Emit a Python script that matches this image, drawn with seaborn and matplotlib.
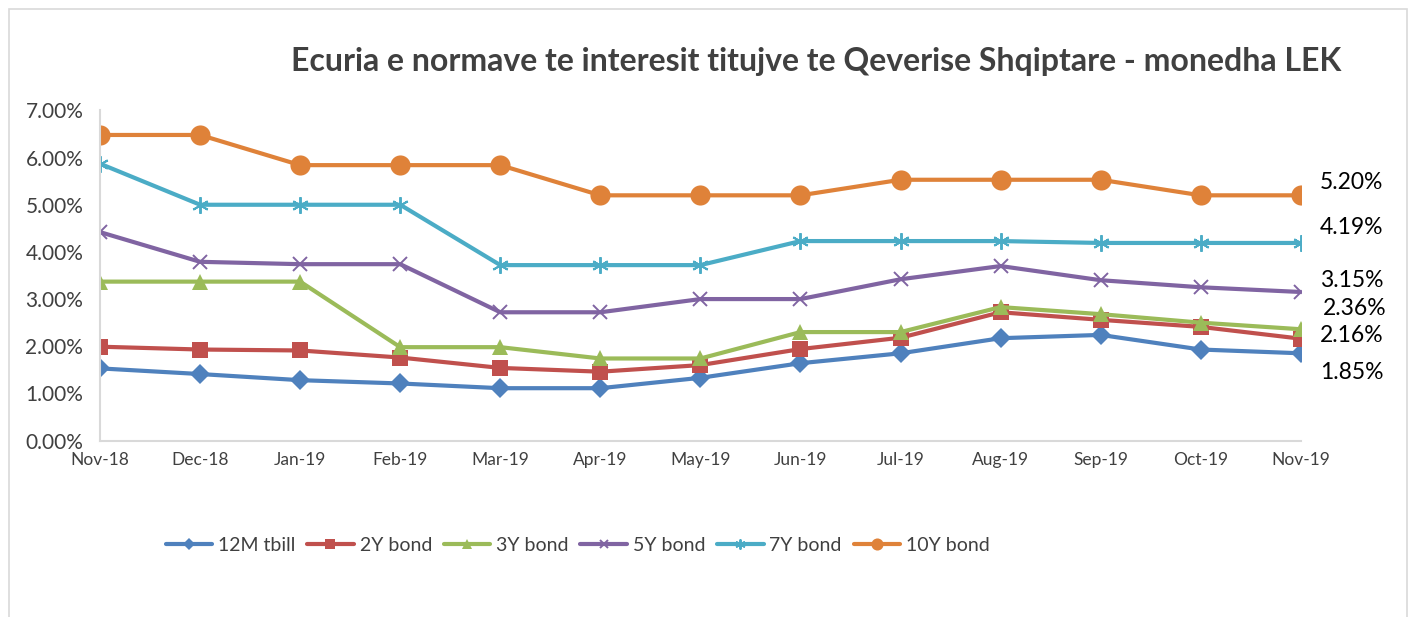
import pandas as pd
import numpy as np
import matplotlib.pyplot as plt
import seaborn as sns
from matplotlib.patches import Rectangle

sns.set_theme(style="white")
plt.rcParams["font.family"] = ["Lato", "DejaVu Sans"]

# data (percent)
months = ["Nov-18", "Dec-18", "Jan-19", "Feb-19", "Mar-19", "Apr-19", "May-19",
          "Jun-19", "Jul-19", "Aug-19", "Sep-19", "Oct-19", "Nov-19"]
tbill_12m = [1.53, 1.41, 1.28, 1.21, 1.11, 1.11, 1.33, 1.64, 1.85, 2.17, 2.24, 1.93, 1.85]
bond_2y = [1.99, 1.93, 1.91, 1.76, 1.54, 1.46, 1.60, 1.94, 2.18, 2.72, 2.56, 2.41, 2.16]
bond_3y = [3.37, 3.37, 3.37, 1.98, 1.98, 1.74, 1.74, 2.30, 2.30, 2.83, 2.68, 2.50, 2.36]
bond_5y = [4.42, 3.79, 3.74, 3.74, 2.72, 2.72, 3.00, 3.00, 3.42, 3.70, 3.40, 3.25, 3.15]
bond_7y = [5.87, 5.00, 5.00, 5.00, 3.72, 3.72, 3.72, 4.23, 4.23, 4.23, 4.19, 4.19, 4.19]
bond_10y = [6.48, 6.48, 5.84, 5.84, 5.84, 5.20, 5.20, 5.20, 5.53, 5.53, 5.53, 5.20, 5.20]
end_labels = ["5.20%", "4.19%", "3.15%", "2.36%", "2.16%", "1.85%"]

series = {
    "12M tbill": tbill_12m,
    "2Y bond": bond_2y,
    "3Y bond": bond_3y,
    "5Y bond": bond_5y,
    "7Y bond": bond_7y,
    "10Y bond": bond_10y,
}
styles = {
    "12M tbill": dict(color="#4F81BD", marker="D", markersize=10),
    "2Y bond": dict(color="#C0504D", marker="s", markersize=11),
    "3Y bond": dict(color="#9BBB59", marker="^", markersize=12),
    "5Y bond": dict(color="#8064A2", marker="x", markersize=10, markeredgewidth=1.4),
    "7Y bond": dict(color="#4BACC6", marker=(6, 2, 0), markersize=12, markeredgewidth=1.4),
    "10Y bond": dict(color="#DF8239", marker="o", markersize=14.5),
}

df = pd.DataFrame(series)
df["idx"] = np.arange(len(months))

fig = plt.figure(figsize=(14.21, 6.17), dpi=100)
ax = fig.add_axes([0.0704, 0.286, 0.845, 0.535])

for name in series:
    st = styles[name]
    sns.lineplot(data=df, x="idx", y=name, ax=ax, label=name, color=st["color"],
                 linewidth=3, marker=st["marker"], markersize=st["markersize"],
                 markeredgewidth=st.get("markeredgewidth", 0),
                 markeredgecolor=st["color"])

ax.set_xlim(0, len(months) - 1)
ax.set_ylim(0, 7)
ax.set_yticks(np.arange(0, 8, 1))
ax.set_yticklabels([f"{v:.2f}%" for v in np.arange(0, 8, 1)], fontsize=15, color="#404040")
ax.set_xticks(df["idx"])
ax.set_xticklabels(months, fontsize=12.5, color="#404040")
ax.set_xlabel("")
ax.set_ylabel("")
ax.tick_params(axis="y", length=0, pad=12)
ax.tick_params(axis="x", length=0, pad=8)
for side in ["top", "right"]:
    ax.spines[side].set_visible(False)
ax.spines["left"].set_color("#D9D9D9")
ax.spines["bottom"].set_color("#D9D9D9")
ax.spines["left"].set_linewidth(1.5)
ax.spines["bottom"].set_linewidth(1.5)

# end-of-line value labels
label_y = [5.47, 4.51, 3.40, 2.81, 2.22, 1.45]
label_x = [12.19, 12.19, 12.19, 12.22, 12.19, 12.19]
for txt, xx, yy in zip(end_labels, label_x, label_y):
    ax.text(xx, yy, txt, fontsize=16.5, color="black", va="center", ha="left",
            clip_on=False)

ax.legend(loc="upper left", bbox_to_anchor=(0.04, -0.24), ncol=6, frameon=False,
          fontsize=14, handlelength=2.4, columnspacing=0.6, handletextpad=0.3,
          markerscale=0.6, labelcolor="#404040")

fig.text(0.574, 0.9, "Ecuria e normave te interesit titujve te Qeverise Shqiptare - monedha LEK",
         ha="center", va="center", fontsize=23, fontweight="bold", color="#404040")

fig.patches.append(Rectangle((0.006, -0.02), 0.984, 1.005, transform=fig.transFigure,
                             fill=False, edgecolor="#D9D9D9", linewidth=1.2))

fig.savefig("out.png", dpi=100)
